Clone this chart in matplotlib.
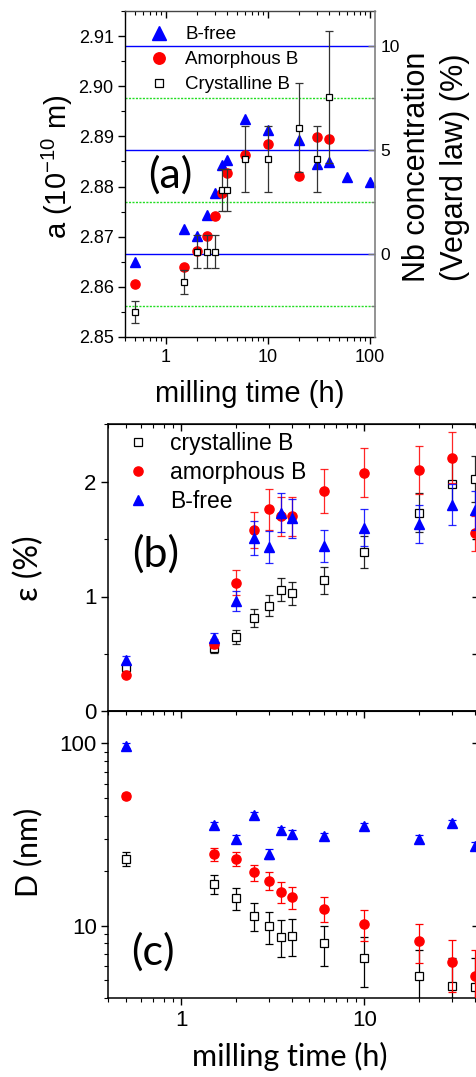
import matplotlib
matplotlib.use('Agg')
import matplotlib.pyplot as plt
from matplotlib.ticker import (MultipleLocator, FuncFormatter, NullFormatter,
                               FixedLocator)

plt.rcParams['font.family'] = ['Liberation Sans', 'DejaVu Sans']
plt.rcParams['mathtext.fontset'] = 'custom'
plt.rcParams['mathtext.rm'] = 'Liberation Sans'
plt.rcParams['mathtext.it'] = 'Liberation Sans:italic'
plt.rcParams['mathtext.default'] = 'regular'

# ---------------- data ----------------
# panel (a): lattice parameter a (1e-10 m)
t_a_bfree = [0.5, 1.5, 2, 2.5, 3, 3.5, 4, 6, 10, 20, 30, 40, 60, 100]
a_bfree = [2.8650, 2.8715, 2.8702, 2.8744, 2.8788, 2.8842, 2.8853, 2.8935,
           2.8912, 2.8893, 2.8845, 2.8848, 2.8819, 2.8810]
t_a_amor = [0.5, 1.5, 2, 2.5, 3, 3.5, 4, 6, 10, 20, 30, 40]
a_amor = [2.8605, 2.8639, 2.8671, 2.8702, 2.8741, 2.8788, 2.8826, 2.8862,
          2.8884, 2.8822, 2.8898, 2.8894]
t_a_cryst = [0.5, 1.5, 2, 2.5, 3, 3.5, 4, 6, 10, 20, 30, 40]
a_cryst = [2.8549, 2.8610, 2.8670, 2.8670, 2.8670, 2.8793, 2.8793, 2.8855,
           2.8855, 2.8917, 2.8855, 2.8979]
a_cryst_err = [0.0022, 0.0024, 0.0033, 0.0033, 0.0033, 0.0042, 0.0042, 0.0066,
               0.0066, 0.0089, 0.0066, 0.0132]

# Vegard law: a = a_pure + slope * Nb(%)
a_pure = 2.8666
vegard_slope = 0.004148
nb_lines_major = [0, 5, 10]
nb_lines_minor = [-2.5, 2.5, 7.5]

# panel (b): microstrain (%)
t_b = [0.5, 1.5, 2, 2.5, 3, 3.5, 4, 6, 10, 20, 30, 40]
eps_cryst = [0.39, 0.55, 0.65, 0.81, 0.92, 1.06, 1.03, 1.14, 1.39, 1.73, 1.98, 2.02]
eps_cryst_err = [0.03, 0.04, 0.06, 0.08, 0.09, 0.10, 0.10, 0.12, 0.14, 0.17, 0.22, 0.20]
eps_amor = [0.32, 0.59, 1.12, 1.58, 1.76, 1.70, 1.70, 1.92, 2.08, 2.10, 2.21, 1.55]
eps_amor_err = [0.02, 0.04, 0.11, 0.16, 0.18, 0.17, 0.17, 0.19, 0.21, 0.21, 0.22, 0.155]
eps_bfree = [0.45, 0.64, 0.96, 1.51, 1.43, 1.73, 1.68, 1.44, 1.60, 1.63, 1.80, 1.75]
eps_bfree_err = [0.03, 0.04, 0.09, 0.15, 0.14, 0.17, 0.17, 0.14, 0.16, 0.165, 0.18, 0.17]

# panel (c): crystallite size D (nm)
t_c = [0.5, 1.5, 2, 2.5, 3, 3.5, 4, 6, 10, 20, 30, 40]
D_cryst = [23.3, 16.9, 14.1, 11.3, 9.9, 8.7, 8.8, 8.0, 6.6, 5.3, 4.65, 4.6]
D_cryst_err = [2, 2, 2, 2, 2, 2, 2, 2, 2, 2, 2, 2]
D_amor = [51.4, 24.7, 23.2, 19.6, 17.6, 15.3, 14.3, 12.4, 10.2, 8.2, 6.3, 5.3]
D_amor_err = [2, 2, 2, 2, 2, 2, 2, 2, 2, 2, 2, 2]
D_bfree = [97, 35.5, 29.8, 40.6, 24.7, 33.4, 31.9, 30.9, 35.1, 29.8, 36.4, 27.4]
D_bfree_err = [3, 1.5, 1.5, 1.5, 1.5, 1.5, 1.5, 1.5, 1.5, 1.5, 1.5, 1.5]

# ---------------- figure ----------------
W, H = 477, 1077
fig = plt.figure(figsize=(W / 100, H / 100), dpi=100)


def box(l, t, r, b):
    return [l / W, 1 - b / H, (r - l) / W, (b - t) / H]


def px(x, y):
    return x / W, 1 - y / H


BLUE = '#0000ff'
RED = '#ff0000'
fmt_g = FuncFormatter(lambda v, p: f'{v:g}')

# ======== panel (a) ========
axA = fig.add_axes(box(125.5, 11, 375, 337))
axA.set_xscale('log')
axA.set_xlim(0.4, 112)
axA.set_ylim(2.85, 2.915)

for nb in nb_lines_major:
    axA.axhline(a_pure + vegard_slope * nb, color=BLUE, lw=1.0, zorder=1)
for nb in nb_lines_minor:
    axA.axhline(a_pure + vegard_slope * nb, color='#22dd22', lw=1.0,
                ls=(0, (1.5, 1)), zorder=1)

hA1, = axA.plot(t_a_bfree, a_bfree, ls='none', marker='^', ms=7.8,
                color=BLUE, mec=BLUE, zorder=3)
hA2, = axA.plot(t_a_amor, a_amor, ls='none', marker='o', ms=6.6,
                color=RED, mec=RED, zorder=3)
ebA = axA.errorbar(t_a_cryst, a_cryst, yerr=a_cryst_err, fmt='s', ms=4.6,
                   mfc='white', mec='black', mew=0.9, ecolor='#333333',
                   elinewidth=0.9, capsize=2.6, capthick=0.9, zorder=4)
axA.legend([hA1, hA2, ebA[0]], ['B-free', 'Amorphous B', 'Crystalline B'],
           loc='upper left', bbox_to_anchor=(0.036, 1.0), frameon=False,
           fontsize=13.5, markerscale=1.25, handlelength=1.0,
           handletextpad=0.92, labelspacing=0.42, borderpad=0.3,
           borderaxespad=0.5, numpoints=1)

axA.xaxis.set_major_formatter(fmt_g)
axA.xaxis.set_minor_formatter(NullFormatter())
axA.yaxis.set_major_locator(MultipleLocator(0.01))
axA.yaxis.set_minor_locator(MultipleLocator(0.005))
axA.yaxis.set_major_formatter(FuncFormatter(lambda v, p: f'{v:.2f}'))
axA.tick_params(axis='both', which='major', direction='out', length=5,
                width=1, labelsize=13, right=False, top=False)
axA.tick_params(axis='both', which='minor', direction='out', length=3,
                width=0.8, right=False, top=False)
axA.spines['right'].set_visible(False)
for s in ['left', 'bottom', 'top']:
    axA.spines[s].set_linewidth(1.0)
axA.spines['top'].set_color('#444444')

secA = axA.secondary_xaxis('top')
secA.tick_params(which='major', direction='in', length=5, width=1)
secA.tick_params(which='minor', direction='in', length=3, width=0.8)
secA.xaxis.set_major_formatter(NullFormatter())
secA.xaxis.set_minor_formatter(NullFormatter())
secA.spines['top'].set_visible(False)

ax2 = axA.twinx()
ax2.set_ylim((2.85 - a_pure) / vegard_slope, (2.915 - a_pure) / vegard_slope)
ax2.yaxis.set_major_locator(FixedLocator(nb_lines_major))
ax2.yaxis.set_minor_locator(FixedLocator(nb_lines_minor))
ax2.yaxis.set_major_formatter(fmt_g)
ax2.tick_params(axis='y', which='major', direction='in', length=5, width=1,
                color='#777777', labelsize=12.5, pad=4)
ax2.tick_params(axis='y', which='minor', direction='in', length=3,
                width=0.8, color='#777777')
for s in ['left', 'top', 'bottom']:
    ax2.spines[s].set_visible(False)
ax2.spines['right'].set_color('#808080')
ax2.spines['right'].set_linewidth(1.2)

fig.text(*px(57, 167), 'a (10$^{-10}$ m)', rotation=90, ha='center',
         va='center', fontsize=21)
fig.text(*px(436, 167), 'Nb concentration\n(Vegard law) (%)', rotation=90,
         ha='center', va='center', fontsize=22, linespacing=1.35,
         multialignment='center')
fig.text(*px(250, 394), 'milling time (h)', ha='center', va='center',
         fontsize=21)
fig.text(*px(170, 175), '(a)', ha='center', va='center', fontsize=31,
         family=['Lato', 'DejaVu Sans'])

# ======== panels (b) and (c) ========
axB = fig.add_axes(box(108.5, 424.3, 478.4, 711.3))
axC = fig.add_axes(box(108.5, 711.3, 478.4, 998))

eb_kw = dict(elinewidth=0.9, capsize=3.0, capthick=0.9)

# (b)
ebB1 = axB.errorbar(t_b, eps_cryst, yerr=eps_cryst_err, fmt='s', ms=5.4,
                    mfc='white', mec='black', mew=0.9, ecolor='black',
                    zorder=3, **eb_kw)
ebB2 = axB.errorbar(t_b, eps_amor, yerr=eps_amor_err, fmt='o', ms=6.6,
                    color=RED, mec=RED, ecolor=RED, zorder=4, **eb_kw)
ebB3 = axB.errorbar(t_b, eps_bfree, yerr=eps_bfree_err, fmt='^', ms=7.8,
                    color=BLUE, mec=BLUE, ecolor=BLUE, zorder=5, **eb_kw)
for eb in (ebB1, ebB2, ebB3):
    for art in eb[1] + eb[2]:
        art.set_alpha(0.85)
axB.legend([ebB1[0], ebB2[0], ebB3[0]],
           ['crystalline B', 'amorphous B', 'B-free'],
           loc='upper left', bbox_to_anchor=(0.0274, 1.0), frameon=False,
           fontsize=16.5, handlelength=1.0, handletextpad=0.91,
           labelspacing=0.26, borderpad=0.15, borderaxespad=0.2, numpoints=1)
axB.set_xscale('log')
axB.set_xlim(0.4, 42)
axB.set_ylim(0, 2.5)
axB.yaxis.set_major_locator(MultipleLocator(1))
axB.yaxis.set_minor_locator(MultipleLocator(0.5))
axB.yaxis.set_major_formatter(fmt_g)

# (c)
ebC1 = axC.errorbar(t_c, D_cryst, yerr=D_cryst_err, fmt='s', ms=5.4,
                    mfc='white', mec='black', mew=0.9, ecolor='black',
                    zorder=3, **eb_kw)
ebC2 = axC.errorbar(t_c, D_amor, yerr=D_amor_err, fmt='o', ms=6.6,
                    color=RED, mec=RED, ecolor=RED, zorder=4, **eb_kw)
ebC3 = axC.errorbar(t_c, D_bfree, yerr=D_bfree_err, fmt='^', ms=7.8,
                    color=BLUE, mec=BLUE, ecolor=BLUE, zorder=5, **eb_kw)
axC.set_xscale('log')
axC.set_yscale('log')
axC.set_xlim(0.4, 42)
axC.set_ylim(4.0, 150)
axC.yaxis.set_major_formatter(fmt_g)
axC.yaxis.set_minor_formatter(NullFormatter())

for ax in (axB, axC):
    ax.xaxis.set_major_formatter(fmt_g)
    ax.xaxis.set_minor_formatter(NullFormatter())
    ax.tick_params(axis='both', which='major', direction='out', length=5,
                   width=1, labelsize=16, right=False, top=False)
    ax.tick_params(axis='both', which='minor', direction='out', length=3,
                   width=0.8, right=False, top=False)
    for s in ax.spines.values():
        s.set_linewidth(1.1)
    sec_t = ax.secondary_xaxis('top')
    sec_t.tick_params(which='major', direction='in', length=5, width=1)
    sec_t.tick_params(which='minor', direction='in', length=3, width=0.8)
    sec_t.xaxis.set_major_formatter(NullFormatter())
    sec_t.xaxis.set_minor_formatter(NullFormatter())
    sec_r = ax.secondary_yaxis('right')
    sec_r.tick_params(which='major', direction='in', length=4, width=1)
    sec_r.tick_params(which='minor', direction='in', length=0)
    sec_r.yaxis.set_major_formatter(NullFormatter())
    sec_r.yaxis.set_minor_formatter(NullFormatter())

axB.tick_params(axis='x', which='both', bottom=False, labelbottom=False)

LATO = ['Lato', 'DejaVu Sans']
fig.text(*px(29, 568), 'ε (%)', rotation=90, ha='center', va='center',
         fontsize=23, family=LATO)
fig.text(*px(156, 554), '(b)', ha='center', va='center', fontsize=31,
         family=LATO)
fig.text(*px(28, 852), 'D (nm)', rotation=90, ha='center', va='center',
         fontsize=22, family=LATO)
fig.text(*px(152.5, 952), '(c)', ha='center', va='center', fontsize=31,
         family=LATO)
fig.text(*px(290, 1056), 'milling time (h)', ha='center', va='center',
         fontsize=22, family=LATO)

fig.savefig('out.png', dpi=100)
